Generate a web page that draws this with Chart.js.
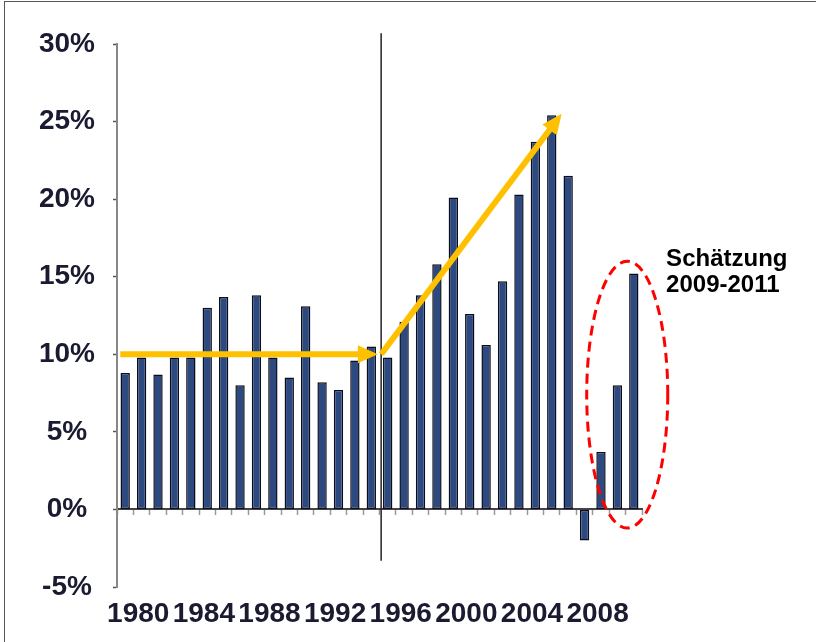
<!DOCTYPE html>
<html>
<head>
<meta charset="utf-8">
<script src="https://cdn.jsdelivr.net/npm/chart.js@4/dist/chart.umd.min.js"></script>
<style>
  body { margin: 0; background: #fff; }
  #wrap { position: relative; width: 816px; height: 642px; overflow: hidden; }
  #frame { position: absolute; left: 4px; top: 1px; right: -10px; bottom: -10px;
           border-left: 1.5px solid #555; border-top: 1.5px solid #555; pointer-events: none; }
</style>
</head>
<body>
<div id="wrap">
  <canvas id="chart" width="816" height="642"></canvas>
  <div id="frame"></div>
</div>
<script>
// categories (years) and yearly growth in %
const years = ['1980', '1981', '1982', '1983', '1984', '1985', '1986', '1987',
               '1988', '1989', '1990', '1991', '1992', '1993', '1994', '1995',
               '1996', '1997', '1998', '1999', '2000', '2001', '2002', '2003',
               '2004', '2005', '2006', '2007', '2008', '2009', '2010', '2011'];
const growth = [8.8, 9.8, 8.7, 9.8, 9.8, 13.0, 13.7, 8.0,
                13.8, 9.8, 8.5, 13.1, 8.2, 7.7, 9.6, 10.5,
                9.8, 12.1, 13.8, 15.8, 20.1, 12.6, 10.6, 14.7,
                20.3, 23.7, 25.4, 21.5, -2.0, 3.7, 8.0, 15.2];
const xTickLabels = ['1980', '1984', '1988', '1992', '1996', '2000', '2004', '2008'];
const yMin = -5, yMax = 30, yStep = 5;

// annotations in data coordinates: [category index, value]
const arrows = [
    { from: [-0.3, 10], to: [15.4, 10] },
    { from: [15.6, 10], to: [26.6, 25.5] }
];
const dividerLine = { index: 15.6, top: 30.7, bottom: -3.3 };
const estimateEllipse = { index: 30.6, value: 7.4, rIndex: 2.47, rValue: 8.6 };
const estimateText = [
    { text: 'Schätzung', index: 32.97, value: 15.7 },
    { text: '2009-2011', index: 32.97, value: 14.0 }
];

const annotationPlugin = {
    id: 'annotations',
    afterDatasetsDraw(chart) {
        const ctx = chart.ctx;
        const x = chart.scales.x;
        const y = chart.scales.y;

        ctx.save();

        // vertical divider between 1995 and 1996
        ctx.strokeStyle = '#222';
        ctx.lineWidth = 1.5;
        ctx.beginPath();
        ctx.moveTo(x.getPixelForValue(dividerLine.index), y.getPixelForValue(dividerLine.top));
        ctx.lineTo(x.getPixelForValue(dividerLine.index), y.getPixelForValue(dividerLine.bottom));
        ctx.stroke();

        // trend arrows
        arrows.forEach(a => {
            const x0 = x.getPixelForValue(a.from[0]), y0 = y.getPixelForValue(a.from[1]);
            const x1 = x.getPixelForValue(a.to[0]), y1 = y.getPixelForValue(a.to[1]);
            const ang = Math.atan2(y1 - y0, x1 - x0);
            const head = 20, half = 9;
            const bx = x1 - head * Math.cos(ang), by = y1 - head * Math.sin(ang);
            ctx.strokeStyle = '#FFC000';
            ctx.fillStyle = '#FFC000';
            ctx.lineWidth = 6;
            ctx.beginPath();
            ctx.moveTo(x0, y0);
            ctx.lineTo(bx + 2 * Math.cos(ang), by + 2 * Math.sin(ang));
            ctx.stroke();
            ctx.beginPath();
            ctx.moveTo(x1, y1);
            ctx.lineTo(bx + half * Math.sin(ang), by - half * Math.cos(ang));
            ctx.lineTo(bx - half * Math.sin(ang), by + half * Math.cos(ang));
            ctx.closePath();
            ctx.fill();
        });

        // dashed ellipse round the estimate years
        const cx = x.getPixelForValue(estimateEllipse.index);
        const cy = y.getPixelForValue(estimateEllipse.value);
        const rx = Math.abs(x.getPixelForValue(estimateEllipse.index + estimateEllipse.rIndex) - cx);
        const ry = Math.abs(y.getPixelForValue(estimateEllipse.value + estimateEllipse.rValue) - cy);
        ctx.strokeStyle = '#FF0000';
        ctx.lineWidth = 3;
        ctx.setLineDash([10, 6]);
        ctx.beginPath();
        ctx.ellipse(cx, cy, rx, ry, 0, 0, Math.PI * 2);
        ctx.stroke();
        ctx.setLineDash([]);

        // label
        ctx.fillStyle = '#000';
        ctx.font = 'bold 24px "Liberation Sans", Arial, sans-serif';
        ctx.textAlign = 'left';
        ctx.textBaseline = 'alphabetic';
        estimateText.forEach(t => {
            ctx.fillText(t.text, x.getPixelForValue(t.index), y.getPixelForValue(t.value));
        });

        ctx.restore();
    }
};

const axisFont = { family: '"Liberation Sans", Arial, sans-serif', size: 28, weight: 'bold', lineHeight: 1.2 };

new Chart(document.getElementById('chart'), {
    type: 'bar',
    data: {
        labels: years,
        datasets: [{
            data: growth,
            backgroundColor: '#2c4a80',
            borderColor: '#0d0d1a',
            borderWidth: 1.5,
            borderSkipped: false,
            categoryPercentage: 1,
            barPercentage: 0.57
        }]
    },
    options: {
        responsive: false,
        animation: false,
        layout: { padding: { left: 0, top: 44, right: 174, bottom: 0 } },
        plugins: {
            legend: { display: false },
            tooltip: { enabled: false }
        },
        scales: {
            x: {
                grid: { display: false, drawTicks: false },
                border: { display: false },
                ticks: {
                    autoSkip: false,
                    maxRotation: 0,
                    minRotation: 0,
                    labelOffset: 13,
                    padding: 10,
                    color: '#1a1a30',
                    font: axisFont,
                    callback: function(value) {
                        const label = this.getLabelForValue(value);
                        return xTickLabels.includes(label) ? label : '';
                    }
                },
                afterFit: scale => { scale.height = 55; }
            },
            // zero line with small tick marks between the bars
            x2: {
                type: 'category',
                offset: true,
                position: { y: 0 },
                grid: { drawOnChartArea: false, offset: true, tickLength: 5, tickColor: '#999', tickWidth: 1.5 },
                border: { color: '#444', width: 2 },
                ticks: { display: false }
            },
            y: {
                min: yMin,
                max: yMax,
                grid: { drawOnChartArea: false, tickLength: 4, tickColor: '#555', tickWidth: 1.5 },
                border: { color: '#888', width: 2 },
                ticks: {
                    stepSize: yStep,
                    crossAlign: 'center',
                    padding: 18,
                    color: '#1a1a30',
                    font: axisFont,
                    callback: v => v + '%'
                },
                afterFit: scale => { scale.width = 117; }
            }
        }
    },
    plugins: [annotationPlugin]
});
</script>
</body>
</html>
